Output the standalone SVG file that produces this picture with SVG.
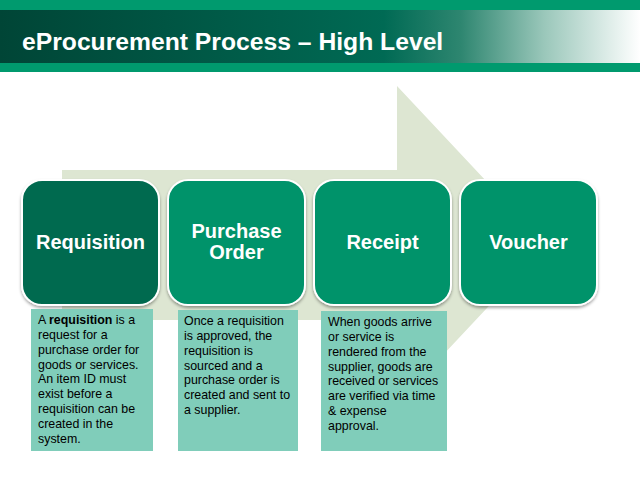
<svg xmlns="http://www.w3.org/2000/svg" width="640" height="480" viewBox="0 0 640 480">
<defs>
<linearGradient id="hdr" x1="0" y1="0" x2="1" y2="0">
<stop offset="0" stop-color="#004536"/>
<stop offset="0.6" stop-color="#006A54"/>
<stop offset="0.72" stop-color="#2E8670"/>
<stop offset="0.85" stop-color="#9AC7BA"/>
<stop offset="1" stop-color="#FFFFFF"/>
</linearGradient>
<filter id="sh" x="-10%" y="-10%" width="120%" height="125%">
<feDropShadow dx="0" dy="2" stdDeviation="1.5" flood-color="#000" flood-opacity="0.35"/>
</filter>
<style>
.node{stroke:#FFFFFF;stroke-width:2;filter:url(#sh)}
.dark{fill:#006B50}
.mid{fill:#00936B}
.lbl{font-family:"Liberation Sans",Arial,sans-serif;font-weight:bold;font-size:20px;fill:#FFFFFF;text-anchor:middle}
.desc{fill:#80CDBA}
.dt{font-family:"Liberation Sans",Arial,sans-serif;font-size:12.4px;fill:#000000}
</style>
</defs>
<rect width="640" height="480" fill="#FFFFFF"/>
<g id="header">
<rect x="0" y="0" width="640" height="10" fill="#009A6E"/>
<rect x="0" y="10" width="640" height="53" fill="url(#hdr)"/>
<rect x="0" y="63" width="640" height="9" fill="#009A6E"/>
<text x="22" y="50" font-family="'Liberation Sans',Arial,sans-serif" font-weight="bold" font-size="24.7" fill="#FFFFFF">eProcurement Process – High Level</text>
</g>
<g id="arrow">
<polygon points="62,170 397,170 397,86 546,245 397,404 397,320 62,320" fill="#DDE6D2"/>
</g>
<g id="connectors"></g>
<g id="node-requisition">
<rect class="node dark" x="22" y="180" width="137" height="125" rx="20"/>
<text class="lbl" x="90.5" y="249">Requisition</text>
</g>
<g id="node-purchase-order">
<rect class="node mid" x="168" y="180" width="137" height="125" rx="20"/>
<text class="lbl" x="236.5" y="238">Purchase</text>
<text class="lbl" x="236.5" y="259">Order</text>
</g>
<g id="node-receipt">
<rect class="node mid" x="314" y="180" width="137" height="125" rx="20"/>
<text class="lbl" x="382.5" y="249">Receipt</text>
</g>
<g id="node-voucher">
<rect class="node mid" x="460" y="180" width="137" height="125" rx="20"/>
<text class="lbl" x="528.5" y="249">Voucher</text>
</g>
<g id="desc-requisition">
<rect class="desc" x="31" y="309" width="122" height="142"/>
<text class="dt" x="38" y="324">A <tspan font-weight="bold">requisition</tspan> is a</text>
<text class="dt" x="38" y="339">request for a</text>
<text class="dt" x="38" y="354">purchase order for</text>
<text class="dt" x="38" y="369">goods or services.</text>
<text class="dt" x="38" y="383">An item ID must</text>
<text class="dt" x="38" y="398">exist before a</text>
<text class="dt" x="38" y="413">requisition can be</text>
<text class="dt" x="38" y="428">created in the</text>
<text class="dt" x="38" y="443">system.</text>
</g>
<g id="desc-purchase-order">
<rect class="desc" x="178" y="310" width="120" height="141"/>
<text class="dt" x="184" y="325">Once a requisition</text>
<text class="dt" x="184" y="340">is approved, the</text>
<text class="dt" x="184" y="355">requisition is</text>
<text class="dt" x="184" y="370">sourced and a</text>
<text class="dt" x="184" y="384">purchase order is</text>
<text class="dt" x="184" y="399">created and sent to</text>
<text class="dt" x="184" y="414">a supplier.</text>
</g>
<g id="desc-receipt">
<rect class="desc" x="321" y="311" width="126" height="140"/>
<text class="dt" x="328" y="326">When goods arrive</text>
<text class="dt" x="328" y="341">or service is</text>
<text class="dt" x="328" y="356">rendered from the</text>
<text class="dt" x="328" y="371">supplier, goods are</text>
<text class="dt" x="328" y="385">received or services</text>
<text class="dt" x="328" y="400">are verified via time</text>
<text class="dt" x="328" y="415">&amp; expense</text>
<text class="dt" x="328" y="430">approval.</text>
</g>
</svg>
